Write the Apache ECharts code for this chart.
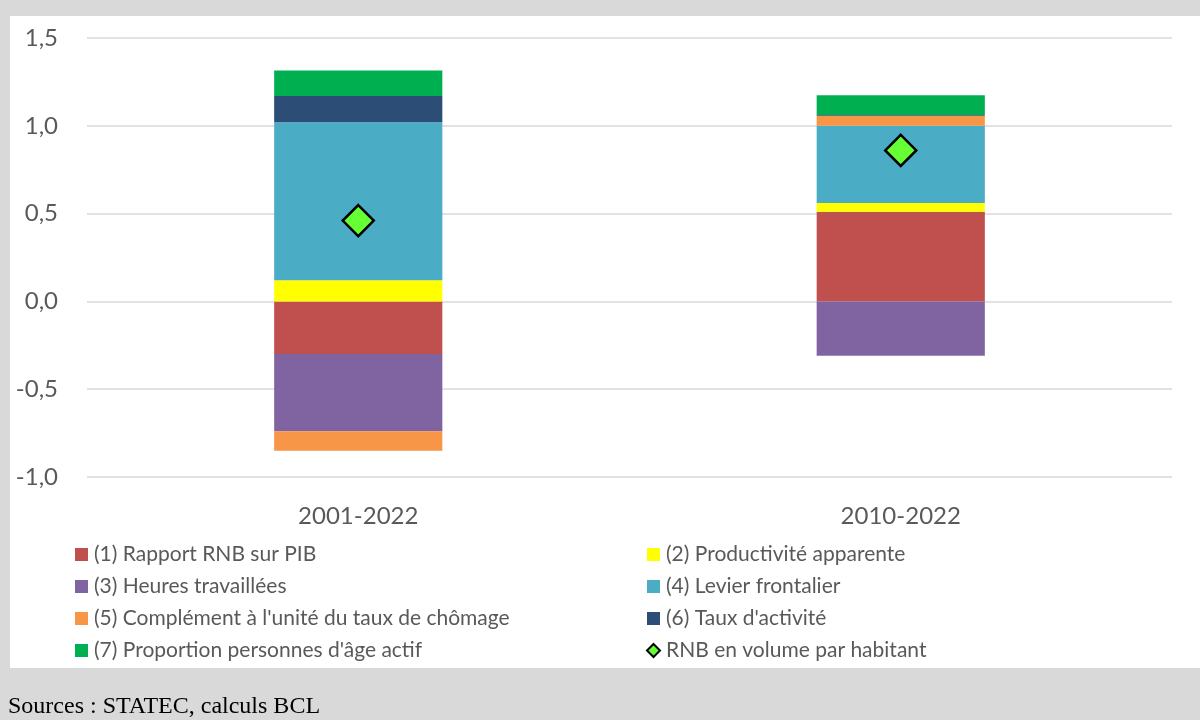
<!DOCTYPE html>
<html>
<head>
<meta charset="utf-8">
<script src="https://cdn.jsdelivr.net/npm/echarts@6/dist/echarts.min.js"></script>
<style>
  html, body { margin: 0; padding: 0; background: #d9d9d9; }
  #chart { width: 1200px; height: 720px; }
</style>
</head>
<body>
<div id="chart"></div>
<script>
const categories = ['2001-2022', '2010-2022'];
const rapportRnbPib = [-0.30, 0.51];
const productivite = [0.12, 0.05];
const heuresTravaillees = [-0.44, -0.31];
const levierFrontalier = [0.90, 0.44];
const complementChomage = [-0.11, 0.057];
const tauxActivite = [0.15, 0.005];
const proportionAgeActif = [0.145, 0.112];
const rnbParHabitant = [0.46, 0.86];
const yTicks = [-1.0, -0.5, 0.0, 0.5, 1.0, 1.5];

const names = [
  '(1) Rapport RNB sur PIB',
  '(2) Productivité apparente',
  '(3) Heures travaillées',
  '(4) Levier frontalier',
  "(5) Complément à l'unité du taux de chômage",
  "(6) Taux d'activité",
  "(7) Proportion personnes d'âge actif",
  'RNB en volume par habitant',
];
const colors = ['#C0504D', '#FFFF00', '#8064A2', '#4BACC6', '#F79646', '#2C4D75', '#00B050'];
const barData = [rapportRnbPib, productivite, heuresTravaillees, levierFrontalier,
  complementChomage, tauxActivite, proportionAgeActif];

const font = 'Lato, "Open Sans", sans-serif';
const textColor = '#595959';

const chart = echarts.init(document.getElementById('chart'));

const legendBase = {
  orient: 'vertical',
  top: 539,
  icon: 'rect',
  itemWidth: 13,
  itemHeight: 13,
  itemGap: 11,
  textStyle: { color: textColor, fontSize: 21, fontFamily: font, lineHeight: 21, padding: [0, 0, 0, 1] },
  selectedMode: false,
};

chart.setOption({
  backgroundColor: '#d9d9d9',
  animation: false,
  graphic: [
    { type: 'rect', shape: { x: 10, y: 16, width: 1190, height: 652 }, style: { fill: '#ffffff' }, z: -10 },
    {
      type: 'text', left: 8, top: 695,
      style: { text: 'Sources : STATEC, calculs BCL', fill: '#000', fontSize: 24, fontFamily: '"Liberation Serif", serif' },
    },
  ],
  grid: { left: 87, right: 28, top: 38, bottom: 243 },
  legend: [
    { ...legendBase, left: 70, data: [names[0], names[2], names[4], names[6]] },
    {
      ...legendBase, left: 641,
      data: [names[1], names[3], names[5],
        { name: names[7], icon: 'diamond', itemStyle: { color: '#66FF33', borderColor: '#000', borderWidth: 2 } }],
    },
  ],
  xAxis: {
    type: 'category',
    data: categories,
    axisLine: { show: false, onZero: false },
    axisTick: { show: false },
    axisLabel: { color: textColor, fontSize: 24, fontFamily: font, margin: 27 },
  },
  yAxis: {
    type: 'value',
    min: yTicks[0],
    max: yTicks[yTicks.length - 1],
    interval: 0.5,
    axisLine: { show: false },
    axisTick: { show: false },
    splitLine: { lineStyle: { color: '#d9d9d9', width: 1.5 } },
    axisLabel: {
      color: textColor, fontSize: 24, fontFamily: font, margin: 29,
      formatter: (v) => v.toFixed(1).replace('.', ','),
    },
  },
  series: [
    ...barData.map((d, i) => ({
      name: names[i],
      type: 'bar',
      stack: 'total',
      data: d,
      barWidth: '31%',
      itemStyle: { color: colors[i] },
    })),
    {
      name: names[7],
      type: 'scatter',
      data: rnbParHabitant,
      symbol: 'diamond',
      symbolSize: 31,
      z: 5,
      itemStyle: { color: '#66FF33', borderColor: '#000', borderWidth: 2.5, opacity: 1 },
    },
  ],
});
</script>
</body>
</html>
